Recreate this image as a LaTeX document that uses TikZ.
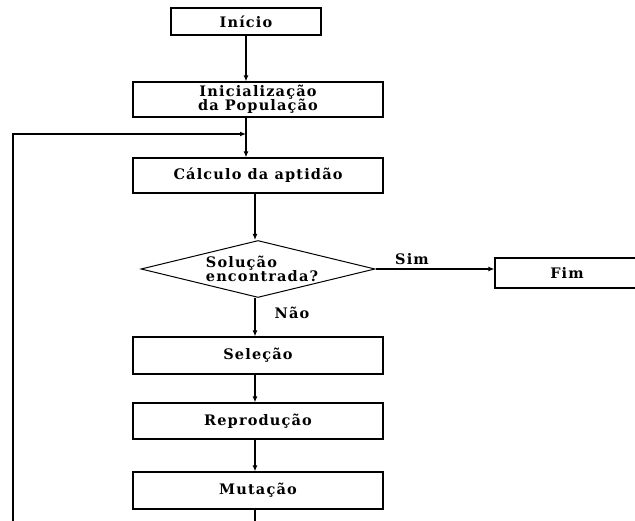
\documentclass[tikz,border=0pt]{standalone}
\usepackage{fontspec}
\setmainfont{DejaVu Serif}
\newfontfamily\lblfont{DejaVu Serif}[LetterSpace=8]
\usetikzlibrary{shapes.geometric,arrows.meta,calc}
\begin{document}
\begin{tikzpicture}[x=1pt,y=-1pt,
  box/.style={draw,line width=1.2pt,rectangle,inner sep=0pt,font=\lblfont\bfseries\fontsize{14.5}{14.5}\selectfont,align=center},
  lbl/.style={inner sep=0pt,font=\lblfont\bfseries\fontsize{14.5}{14}\selectfont,align=left},
  conn/.style={line width=1.2pt,-{Latex[length=6pt,width=5pt]}},
  plain/.style={line width=1.2pt}]
\useasboundingbox (0,0) rectangle (635,521);
\clip (0,0) rectangle (635,521);
\node[box,minimum width=150pt,minimum height=27pt] (inicio) at (246,21.5) {Início};
\node[box,minimum width=250pt,minimum height=35pt] (init) at (258,99.5) {Inicialização\\da População};
\node[box,minimum width=250pt,minimum height=35pt] (calc) at (258,175.5) {Cálculo da aptidão};
\node[draw,line width=1pt,shape=diamond,inner sep=0pt,minimum width=234pt,minimum height=57pt] (dec) at (258,269) {};
\node[lbl] (dect) at (262,269) {Solução\\encontrada?};
\node[box,minimum width=150pt,minimum height=30pt] (fim) at (570,273) {};
\node[lbl] (fimt) at (567,273) {Fim};
\node[box,minimum width=250pt,minimum height=37pt] (sel) at (258,355.5) {Seleção};
\node[box,minimum width=250pt,minimum height=36pt] (rep) at (258,421) {Reprodução};
\node[box,minimum width=250pt,minimum height=37pt] (mut) at (258,490.5) {Mutação};
\node[lbl] (sim) at (412,259) {Sim};
\node[lbl] (nao) at (292,313) {Não};
\coordinate (jj) at (inicio.south |- 0,134);
\coordinate (bl) at (13,540);
\coordinate (br) at (255,540);
\draw[conn] (inicio.south) -- (inicio.south |- init.north);
\draw[conn] (init.south -| inicio.south) -- (calc.north -| inicio.south);
\draw[conn] (calc.south -| br) -- (dec.north -| br);
\draw[conn] (dec.east) -- (dec.east -| fim.west);
\draw[conn] (dec.south -| br) -- (sel.north -| br);
\draw[conn] (sel.south -| br) -- (rep.north -| br);
\draw[conn] (rep.south -| br) -- (mut.north -| br);
\draw[plain] (mut.south -| br) -- (br) -- (bl);
\draw[conn] (bl) -- (bl |- jj) -- (jj);
\end{tikzpicture}
\end{document}
